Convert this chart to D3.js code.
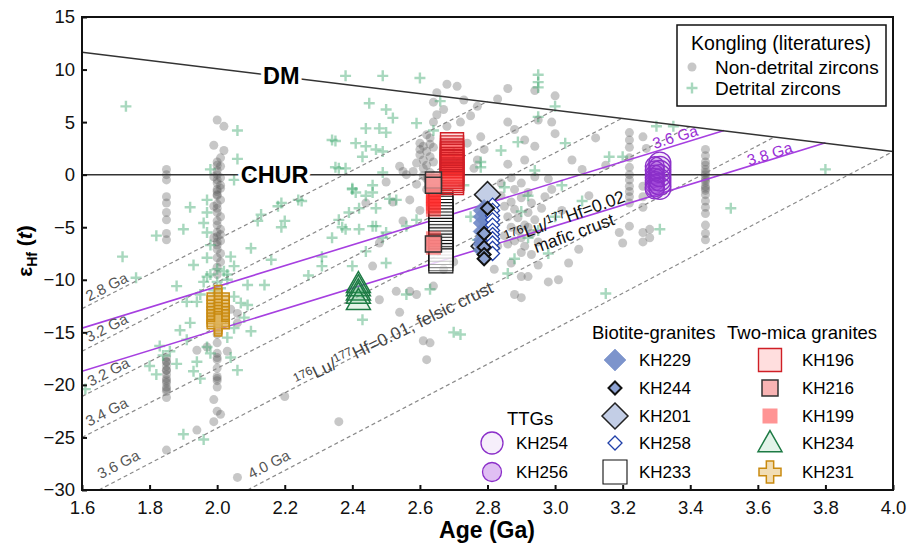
<!DOCTYPE html>
<html lang="en">
<head>
<meta charset="UTF-8">
<style>
  body { margin: 0; background: #fff; }
  text { font-family: "Liberation Sans", Arial, sans-serif; }
</style>
</head>
<body>
<script src="https://d3js.org/d3.v7.min.js"></script>
<script>
// ---- data (age in Ga, eHf(t)) ----
var xTicks = [1.6, 1.8, 2.0, 2.2, 2.4, 2.6, 2.8, 3.0, 3.2, 3.4, 3.6, 3.8, 4.0]
var yTicks = [-30, -25, -20, -15, -10, -5, 0, 5, 10, 15]

// Kongling literature, non-detrital zircons
var nonDetrital = [
  [1.85,0.5],[1.85,0],[1.85,-0.5],[1.85,-2.1],[1.85,-2.7],[1.85,-3.6],[1.85,-4.3],[1.85,-5.6],[1.85,-6.2],
  [1.85,-17.4],[1.85,-17.8],[1.85,-18.2],[1.85,-18.6],[1.85,-19.0],[1.85,-19.4],[1.85,-19.8],[1.85,-20.2],[1.85,-20.6],[1.85,-21.2],
  [1.85,-17.8],[1.85,-18.6],[1.85,-19.6],[1.85,-20.4],[1.85,-26.2],
  [2.0,5.2],[2.02,4.6],[1.99,2.8],[2.02,2.3],[2.01,1.6],[2.0,1.2],[2.01,0.8],[2.0,0.4],[2.0,0],[2.01,-0.3],
  [2.0,-0.8],[2.01,-1.3],[2.0,-1.6],[2.0,-2.0],[2.01,-2.4],[2.0,-2.8],[2.0,-3.2],[2.0,-3.6],[2.01,-4.0],[2.0,-4.4],
  [2.0,-4.8],[2.01,-5.2],[2.0,-5.5],[2.0,-5.9],[2.01,-6.3],[2.0,-6.7],[2.0,-7.1],[2.01,-7.5],[2.0,-7.9],[2.01,-8.3],
  [1.99,-0.2],[2.01,-1.0],[1.99,-3.0],[2.01,-5.7],[1.99,-6.0],[2.0,-6.4],[2.0,-0.5],[2.0,-1.9],[2.0,0.9],[2.0,-1.4],
  [2.0,-8.8],[2.0,-9.5],[2.0,-14.4],[2.0,-15.2],[2.0,-16.0],[1.97,-16.4],[1.94,-16.7],[2.03,-16.8],[2.0,-17.0],
  [2.0,-17.6],[2.0,-18.4],[2.0,-19.2],[2.0,-19.6],[2.0,-20.2],[2.0,-17.4],[2.0,-19.4],[1.99,-21.4],[2.0,-22.5],
  [2.01,-22.8],[1.99,-23.5],[1.94,-24.3],[2.06,-28.8],[2.06,-13.2],[2.06,-14.1],[2.04,-12.8],
  [2.2,-21.1],[2.36,-23.5],
  [2.48,-11.9],[2.53,-11.1],[2.57,-11.1],[2.59,-11.4],[2.64,-10.6],[2.54,-13.1],[2.61,-15.8],[2.63,-16.0],[2.62,-17.6],
  [2.68,8.6],[2.71,8.4],[2.65,7.8],[2.64,6.9],[2.67,6.2],[2.65,5.7],[2.64,5.0],[2.68,4.6],[2.63,3.5],[2.61,2.7],
  [2.60,1.9],[2.59,1.1],[2.63,1.7],[2.62,2.2],[2.60,3.0],[2.62,3.8],[2.64,2.6],[2.61,0.6],[2.63,0.2],[2.62,-0.4],
  [2.64,1.2],[2.58,0.3],[2.54,0.8],[2.55,0.3],[2.56,0],[2.57,-2.4],[2.44,-2.7],[2.52,-2.6],[2.5,-0.7],
  [2.61,1.4],[2.62,0.9],[2.6,2.4],[2.63,2.9],[2.61,-0.1],[2.59,-0.9],[2.62,-1.4],
  [2.78,3.6],[2.79,2.4],[2.77,1.4],[2.75,5.6],[2.77,6.5],[2.73,7.1],[2.72,5.0],[2.74,3.0],[2.76,0.6],[2.66,-1.8],
  [2.6,-3.4],[2.55,-4.4],[2.48,-6.5],[2.46,-8.7],[2.67,-9.0],[2.7,-8.3],
  [2.83,7.2],[2.86,5.0],[2.88,4.3],[2.91,3.3],[2.94,2.7],[2.91,1.4],[2.87,-0.3],[2.9,-0.8],[2.88,-1.4],[2.99,-1.4],
  [2.93,-2.7],[2.92,-3.6],[2.94,-4.3],[2.9,-7.4],[2.87,-8.4],[2.92,-9.7],[3.01,-10.0],[3.04,-8.4],[3.07,-7.1],
  [3.19,-5.5],[3.2,-6.5],[3.0,3.9],[3.05,1.4],[2.99,5.0],[2.95,5.2],[2.84,-2.0],[2.85,-3.0],[2.86,-4.0],[2.87,-5.0],
  [2.85,-5.8],[2.88,-6.3],[2.9,-2.2],[2.91,-4.8],[2.93,-5.6],[2.95,-6.4],[2.96,-3.2],[2.97,-2.1],[2.98,-0.4],
  [2.83,-6.8],[2.82,-9.0],[2.84,-0.8],[2.86,1.0],[2.89,-5.3],[2.92,-1.7],[2.94,-0.2],[3.02,-3.4],[3.1,-2.0],
  [3.08,0.5],[2.9,-9.7],[2.98,-10.2],[2.88,-11.4],[2.9,-11.7],[3.12,3.5],[3.0,7.5],[3.15,0.9],[2.86,8.2],[2.94,8.0],
  [2.88,-3.3],[2.89,-4.1],[2.9,-6.0],[2.91,-6.8],[2.87,-2.6],[2.92,-5.0],[2.86,-6.6],[2.93,-7.6],[2.95,-8.6],
  [3.22,4.0],[3.22,3.3],[3.22,2.6],[3.22,1.6],[3.22,0.7],[3.22,0],[3.22,-0.5],[3.22,-1.1],[3.22,-1.6],[3.22,-2.1],
  [3.22,-2.7],[3.22,-4.9],[3.26,3.6],[3.26,-1.1],[3.26,-2.1],[3.26,-3.1],[3.26,-5.5],[3.26,-6.4],[3.28,-5.2],
  [3.28,-6.0],[3.27,2.5],
  [3.445,2.4],[3.445,1.8],[3.445,1.2],[3.445,0.9],[3.445,0.5],[3.445,0],[3.445,-0.3],[3.445,-0.7],[3.445,-1.1],
  [3.445,-1.5],[3.445,-1.9],[3.445,-2.5],[3.445,-3.1],[3.445,-3.7],[3.445,-4.8],[3.445,-5.6],[3.445,-6.2],
  [3.445,0.2],[3.445,-0.5],[3.445,-1.3]
]

// Kongling literature, detrital zircons
var detrital = [
  [1.73,6.5],[2.06,4.2],[2.06,1.5],[2.05,-0.5],[1.98,0.5],[1.92,-3.1],[1.9,-5.2],[1.82,-5.8],[1.72,-7.8],[1.76,-9.8],
  [1.97,-2.4],[1.97,-3.6],[1.96,-4.6],[1.97,-5.5],[1.98,-6.7],[1.97,-7.9],[2.04,-7.8],[2.05,-8.7],[1.97,-9.7],[2.03,-9.5],
  [2.13,-3.8],[2.16,-8.1],[2.19,-2.7],[2.2,-4.4],[2.25,-2.5],[2.35,3.2],[2.38,9.4],[2.49,9.4],[2.6,9.2],[2.45,6.8],
  [2.5,6.2],[2.52,5.4],[2.44,4.4],[2.48,4.4],[2.5,4.0],[2.59,4.9],[2.41,3.0],[2.44,2.7],[2.49,2.2],[2.43,1.7],
  [2.49,0.2],[2.36,0.6],[2.38,0.6],[2.4,-1.3],[2.46,-1.0],[2.41,-1.7],[2.46,-1.7],[2.53,-2.4],[2.42,-3.2],[2.47,-3.2],
  [2.39,-3.6],[2.36,-4.3],[2.38,-5.2],[2.42,-5.2],[2.34,-6.0],[2.47,-4.9],[2.49,-6.0],[2.5,-5.5],[2.59,-4.3],[2.56,-4.9],
  [2.44,-7.3],[2.5,-8.4],[2.31,-7.8],[2.31,-8.7],[2.4,-8.7],[2.34,3.3],[2.47,2.4],[2.35,0.7],[2.18,-3.0],[2.24,-2.4],
  [2.19,-5.0],[2.12,-4.4],[2.4,-1.4],[2.44,-2.0],[2.51,-2.3],[2.37,-5.0],[2.46,-4.9],[2.68,-3.9],[2.78,0.7],
  [2.95,9.5],[2.95,8.8],[2.95,8.3],[3.0,6.5],[2.95,5.5],[3.03,3.0],[3.16,1.7],[3.2,1.7],[3.3,4.6],[3.35,4.6],
  [3.8,0.5],[3.52,-3.2],[3.31,-5.2],[2.78,1.2],[2.89,3.1],[2.94,0.4],[3.08,-2.5],[2.73,-1.0],[2.86,-9.4],[3.15,-11.3],
  [2.70,-15.0],[1.9,-24.7],[1.96,-25.2],[1.61,-20.4],[2.06,-18.6],[2.43,-13.8],[2.56,-11.4],[2.63,-10.9],[2.72,-15.2],
  [2.14,-10.5],[2.09,-10.5],[2.05,-11.6],[2.05,-14.6],[2.03,-15.5],[1.89,-14.8],[1.92,-14.1],[1.91,-15.7],[1.94,-17.8],
  [1.93,-18.7],[1.83,-16.3],[1.8,-18.2],[1.82,-19.0],[1.88,-10.6],[1.91,-12.1],[1.94,-12.1],[1.96,-10.2],[2.0,-10.2],
  [2.02,-9.2],[2.0,-9.0],[1.98,-9.5],[2.01,-10.8],[2.03,-10.0],[1.99,-11.0],[1.95,-11.4],[2.07,-12.2],[2.08,-13.6],
  [1.97,-16.4],[1.98,-17.0],[2.04,-17.4],[1.95,-19.4],[1.86,-16.8],[1.84,-17.2],[1.88,-18.0],[2.09,-12.4],[2.1,-14.9],
  [1.99,-12.6],[2.0,-13.9],[2.75,-4.0],[2.77,-6.2],[2.85,-1.2],[2.9,-3.5],[2.92,-6.0],[2.88,-8.0],[2.92,-2.0],
  [2.84,2.3],[2.82,-7.0],[2.95,-5.3],[2.98,-7.5],[3.0,-4.0],[3.02,-1.0],[2.64,4.2],[2.7,2.0],[2.66,7.0],
  [2.43,-11.2],[2.27,-9.6],[2.1,-7.0],[1.93,-8.6]
]

// this study
var kh196 = [[2.695,2.9],[2.695,2.6],[2.695,2.3],[2.695,2.1],[2.695,2.0],[2.695,1.8],[2.695,1.5],[2.695,1.3],[2.695,1.2],
  [2.695,1.0],[2.695,0.8],[2.695,0.5],[2.695,0.3],[2.695,0.1],[2.695,0.0],[2.695,-0.2],[2.695,-0.4],[2.695,-0.6],[2.695,-0.8]]
var kh233 = [[2.662,-2.6],[2.662,-2.9],[2.662,-3.2],[2.662,-3.5],[2.662,-3.8],[2.662,-4.1],[2.662,-4.4],[2.662,-4.7],
  [2.662,-5.0],[2.662,-5.3],[2.662,-5.6],[2.662,-5.9],[2.662,-6.2],[2.662,-6.5],[2.662,-6.8],[2.662,-7.1],[2.662,-7.4],
  [2.662,-7.7],[2.662,-8.0],[2.662,-8.2]]
var kh199 = [[2.64,-0.7],[2.64,-1.1],[2.64,-1.6],[2.64,-2.0],[2.64,-2.3],[2.64,-2.7],[2.64,-3.0],[2.64,-3.3],
  [2.64,-6.1],[2.64,-6.5],[2.64,-6.9]]
var kh216 = [[2.64,-0.5],[2.64,-1.0],[2.64,-6.6]]
var kh229 = [[2.79,-3.4],[2.79,-4.0],[2.79,-4.6],[2.79,-5.4],[2.79,-6.2],[2.79,-6.6],[2.79,-7.2]]
var kh201 = [[2.80,-1.9],[2.79,-6.8]]
var kh244 = [[2.80,-3.2],[2.79,-5.6],[2.79,-6.9],[2.79,-7.6],[2.79,-8.0]]
var kh258 = [[2.815,-2.9],[2.815,-3.4],[2.815,-3.9],[2.815,-4.3],[2.815,-4.8],[2.815,-5.3],[2.815,-5.7],[2.815,-6.1],
  [2.815,-6.5],[2.815,-7.0],[2.815,-7.5]]
var kh234 = [[2.418,-10.4],[2.418,-10.7],[2.418,-11.1],[2.418,-11.4],[2.418,-12.0]]
var kh231 = [[2.003,-11.6],[2.003,-11.9],[2.003,-12.3],[2.003,-12.6],[2.003,-12.9],[2.003,-13.2],[2.003,-13.5],
  [2.003,-13.8],[2.003,-14.1],[2.003,-14.3]]
var kh254 = [[3.31,1.1],[3.31,0.7],[3.31,0.3],[3.31,-0.1],[3.31,-0.5],[3.31,-0.9],[3.31,-1.3]]
var kh256 = [[3.295,0.8],[3.295,0.4],[3.295,0.0],[3.295,-0.3],[3.295,-0.6],[3.295,-0.9],[3.295,-1.2],[3.295,-1.4]]

// reference lines (end points)
var dmLine = [[1.6, 11.65], [4.0, 2.2]]
var churLine = [[1.6, 0], [4.0, 0]]
var felsicLines = [
  [[1.6, -12.75], [2.8, 6.97]],
  [[1.6, -16.8], [3.0, 6.18]],
  [[1.6, -21.1], [3.2, 5.39]],
  [[1.6, -25.0], [3.4, 4.6]],
  [[1.65, -30], [3.65, 3.6]],
  [[2.09, -30], [4.0, 2.2]]
]
var felsicLabels = ['2.8 Ga', '3.2 Ga', '3.2 Ga', '3.4 Ga', '3.6 Ga', '4.0 Ga']
var felsicLabelPos = [[1.68, -11.1], [1.68, -15.0], [1.685, -19.2], [1.68, -23.0], [1.715, -28.0], [2.16, -28.0]]
var maficLines = [
  [[1.6, -14.6], [3.5, 4.2]],
  [[1.6, -18.7], [3.8, 3.03]]
]
var maficLabels = ['3.6 Ga', '3.8 Ga']
var maficLabelPos = [[3.36, 3.1], [3.64, 1.5]]

// ---- layout ----
var svgWidth = 908, svgHeight = 547
var svg = d3.select('body').append('svg')
  .attr('width', svgWidth)
  .attr('height', svgHeight)

var x = d3.scaleLinear().domain([1.6, 4.0]).range([82, 893])
var y = d3.scaleLinear().domain([-30, 15]).range([490, 17])

svg.append('clipPath').attr('id', 'plot')
  .append('rect').attr('x', 82).attr('y', 17).attr('width', 811).attr('height', 473)

var plot = svg.append('g').attr('clip-path', 'url(#plot)')
var line = d3.line().x(d => x(d[0])).y(d => y(d[1]))

// marker shapes, s = full width in px
function shapePath(type, s) {
  var h = s / 2
  if (type == 'square') return 'M' + -h + ',' + -h + 'H' + h + 'V' + h + 'H' + -h + 'Z'
  if (type == 'diamond') return 'M0,' + -h + 'L' + h + ',0L0,' + h + 'L' + -h + ',0Z'
  if (type == 'triangle') return 'M0,' + (-0.52 * s) + 'L' + h + ',' + (0.36 * s) + 'L' + -h + ',' + (0.36 * s) + 'Z'
  if (type == 'plus') {
    var b = s / 6
    return 'M' + -b + ',' + -h + 'H' + b + 'V' + -b + 'H' + h + 'V' + b + 'H' + b + 'V' + h +
      'H' + -b + 'V' + b + 'H' + -h + 'V' + -b + 'H' + -b + 'Z'
  }
  if (type == 'cross') {
    return 'M' + -h + ',0H' + h + 'M0,' + -h + 'V' + h
  }
  // circle
  return 'M' + h + ',0A' + h + ',' + h + ' 0 1,1 ' + -h + ',0A' + h + ',' + h + ' 0 1,1 ' + h + ',0Z'
}

var styles = {
  nonDetrital: { type: 'circle', size: 9, fill: '#555', fillOpacity: 0.33, stroke: 'none', sw: 0 },
  detrital: { type: 'cross', size: 11, fill: 'none', fillOpacity: 1, stroke: '#3da86f', sw: 2.4, opacity: 0.45 },
  KH196: { type: 'square', size: 23, fill: '#ff3030', fillOpacity: 0.16, stroke: '#cf1f26', sw: 1.4 },
  KH216: { type: 'square', size: 16, fill: '#f59a9a', fillOpacity: 0.75, stroke: '#333', sw: 1.5 },
  KH199: { type: 'square', size: 15, fill: '#ff2a2a', fillOpacity: 0.5, stroke: 'none', sw: 0 },
  KH233: { type: 'square', size: 24, fill: '#fff', fillOpacity: 0.3, stroke: '#111', sw: 1.1 },
  KH229: { type: 'diamond', size: 22, fill: '#6f88c6', fillOpacity: 0.9, stroke: '#6f88c6', sw: 0.5 },
  KH244: { type: 'diamond', size: 13, fill: '#8ea3d3', fillOpacity: 1, stroke: '#111', sw: 2 },
  KH201: { type: 'diamond', size: 26, fill: '#c3cee6', fillOpacity: 1, stroke: '#222', sw: 1.5 },
  KH258: { type: 'diamond', size: 14, fill: '#fff', fillOpacity: 1, stroke: '#1f3fa8', sw: 1.3 },
  KH234: { type: 'triangle', size: 24, fill: '#3aa866', fillOpacity: 0.14, stroke: '#1d7a44', sw: 1.5 },
  KH231: { type: 'plus', size: 22, fill: '#e0b45c', fillOpacity: 0.45, stroke: '#c98a10', sw: 1.5 },
  KH254: { type: 'circle', size: 22, fill: '#8b2fc9', fillOpacity: 0.08, stroke: '#8b2fc9', sw: 1.3 },
  KH256: { type: 'circle', size: 19, fill: '#a548dc', fillOpacity: 0.35, stroke: '#8b2fc9', sw: 1.3 }
}

function drawMarks(g, data, st) {
  g.selectAll(null).data(data).enter().append('path')
    .attr('d', shapePath(st.type, st.size))
    .attr('transform', d => 'translate(' + x(d[0]) + ',' + y(d[1]) + ')')
    .attr('fill', st.fill)
    .attr('fill-opacity', st.fillOpacity)
    .attr('stroke', st.stroke)
    .attr('stroke-width', st.sw)
    .attr('opacity', st.opacity || 1)
}

// literature data
drawMarks(plot, nonDetrital, styles.nonDetrital)
drawMarks(plot, detrital, styles.detrital)

// reference lines
felsicLines.forEach(function (l) {
  plot.append('path').attr('d', line(l)).attr('fill', 'none')
    .attr('stroke', '#8a8a8a').attr('stroke-width', 1.2).attr('stroke-dasharray', '4,3')
})
maficLines.forEach(function (l) {
  plot.append('path').attr('d', line(l)).attr('fill', 'none')
    .attr('stroke', '#a63fe0').attr('stroke-width', 1.6)
})
plot.append('path').attr('d', line(dmLine)).attr('fill', 'none').attr('stroke', '#333').attr('stroke-width', 1.5)
plot.append('path').attr('d', line(churLine)).attr('fill', 'none').attr('stroke', '#333').attr('stroke-width', 1.5)

// line labels
felsicLabels.forEach(function (t, i) {
  var p = felsicLabelPos[i]
  svg.append('text').text(t)
    .attr('transform', 'translate(' + x(p[0]) + ',' + y(p[1]) + ') rotate(-27)')
    .attr('text-anchor', 'middle').attr('font-size', 15).attr('fill', '#555')
})
maficLabels.forEach(function (t, i) {
  var p = maficLabelPos[i]
  svg.append('text').text(t)
    .attr('transform', 'translate(' + x(p[0]) + ',' + y(p[1]) + ') rotate(-17)')
    .attr('text-anchor', 'middle').attr('font-size', 15.5).attr('fill', '#9a2fd6')
})

function bigLabel(t, p) {
  svg.append('text').text(t)
    .attr('x', x(p[0])).attr('y', y(p[1])).attr('dy', '0.36em')
    .attr('text-anchor', 'middle').attr('font-size', 23.5).attr('font-weight', 'bold')
    .attr('fill', '#000').attr('stroke', '#fff').attr('stroke-width', 7)
    .attr('paint-order', 'stroke')
}
bigLabel('DM', [2.19, 9.4])
bigLabel('CHUR', [2.17, 0])

function lutext(g, ratio, rest, fill) {
  var t = g.append('text').attr('text-anchor', 'middle').attr('font-size', 17.5).attr('fill', fill)
  t.append('tspan').text('176').attr('font-size', 12).attr('dy', -6)
  t.append('tspan').text('Lu/').attr('dy', 6)
  t.append('tspan').text('177').attr('font-size', 12).attr('dy', -6)
  t.append('tspan').text('Hf=' + ratio + rest).attr('dy', 6)
  return t
}
var felsicLab = svg.append('g')
  .attr('transform', 'translate(' + x(2.53) + ',' + y(-15.7) + ') rotate(-26)')
lutext(felsicLab, '0.01', ', felsic crust', '#444')

var maficLab = svg.append('g')
  .attr('transform', 'translate(' + x(3.035) + ',' + y(-4.6) + ') rotate(-20)')
lutext(maficLab, '0.02', '', '#111')
maficLab.append('text').text('mafic crust').attr('x', 3).attr('y', 18)
  .attr('text-anchor', 'middle').attr('font-size', 17.5).attr('fill', '#111')

// samples of this study
var samples = plot.append('g')
drawMarks(samples, kh233, styles.KH233)
drawMarks(samples, kh196, styles.KH196)
drawMarks(samples, kh199, styles.KH199)
drawMarks(samples, kh216, styles.KH216)
drawMarks(samples, kh201, styles.KH201)
drawMarks(samples, kh229, styles.KH229)
drawMarks(samples, kh258, styles.KH258)
drawMarks(samples, kh244, styles.KH244)
drawMarks(samples, kh234, styles.KH234)
drawMarks(samples, kh231, styles.KH231)
drawMarks(samples, kh256, styles.KH256)
drawMarks(samples, kh254, styles.KH254)

// axes
var xAxis = svg.append('g').attr('transform', 'translate(0,490)')
  .call(d3.axisBottom(x).tickValues(xTicks).tickSize(-5).tickPadding(11).tickFormat(d3.format('.1f')))
var yAxis = svg.append('g').attr('transform', 'translate(82,0)')
  .call(d3.axisLeft(y).tickValues(yTicks).tickSize(-5).tickPadding(7))
;[xAxis, yAxis].forEach(function (a) {
  a.select('.domain').remove()
  a.selectAll('line').attr('stroke', '#111').attr('stroke-width', 2)
  a.selectAll('text').attr('font-size', 18.5).attr('fill', '#111')
    .attr('font-family', '"Liberation Sans", Arial, sans-serif')
})

svg.append('rect').attr('x', 82).attr('y', 17).attr('width', 811).attr('height', 473)
  .attr('fill', 'none').attr('stroke', '#111').attr('stroke-width', 2)

// axis titles
svg.append('text').text('Age (Ga)')
  .attr('x', 487).attr('y', 538).attr('text-anchor', 'middle')
  .attr('font-size', 23).attr('font-weight', 'bold')

var yt = svg.append('text')
  .attr('transform', 'translate(32,251) rotate(-90)')
  .attr('text-anchor', 'middle').attr('font-weight', 'bold').attr('font-size', 21)
yt.append('tspan').text('\u03b5')
yt.append('tspan').text('Hf').attr('font-size', 14).attr('dy', 5)
yt.append('tspan').text(' (').attr('dy', -5)
yt.append('tspan').text('t').attr('font-style', 'italic')
yt.append('tspan').text(')')

// legend 1: literature
var leg1 = svg.append('g')
leg1.append('rect').attr('x', 677).attr('y', 25).attr('width', 209).attr('height', 81)
  .attr('fill', '#fff').attr('stroke', '#111').attr('stroke-width', 1.5)
leg1.append('text').text('Kongling (literatures)').attr('x', 781).attr('y', 50)
  .attr('text-anchor', 'middle').attr('font-size', 19.5)
leg1.append('path').attr('d', shapePath('circle', 9)).attr('transform', 'translate(692,67)')
  .attr('fill', '#555').attr('fill-opacity', 0.33)
leg1.append('path').attr('d', shapePath('cross', 11)).attr('transform', 'translate(692,88)')
  .attr('fill', 'none').attr('stroke', '#3da86f').attr('stroke-width', 2.4).attr('opacity', 0.45)
leg1.append('text').text('Non-detrital zircons').attr('x', 715).attr('y', 74).attr('font-size', 19)
leg1.append('text').text('Detrital zircons').attr('x', 715).attr('y', 95).attr('font-size', 19)

// legend 2: samples
var leg2 = svg.append('g')
var rowsY = [360, 388, 416, 443, 472]
var biotite = ['KH229', 'KH244', 'KH201', 'KH258', 'KH233']
var twoMica = ['KH196', 'KH216', 'KH199', 'KH234', 'KH231']
var ttgs = ['KH254', 'KH256']

function legendItem(name, mx, tx, yy) {
  var st = styles[name]
  leg2.append('path').attr('d', shapePath(st.type, st.size))
    .attr('transform', 'translate(' + mx + ',' + yy + ')')
    .attr('fill', st.fill).attr('fill-opacity', st.fillOpacity)
    .attr('stroke', st.stroke).attr('stroke-width', st.sw)
  leg2.append('text').text(name).attr('x', tx).attr('y', yy).attr('dy', '0.36em').attr('font-size', 17)
}
leg2.append('text').text('Biotite-granites').attr('x', 592).attr('y', 339).attr('font-size', 18.5)
leg2.append('text').text('Two-mica granites').attr('x', 727).attr('y', 339).attr('font-size', 18.5)
leg2.append('text').text('TTGs').attr('x', 507).attr('y', 425).attr('font-size', 18.5)
biotite.forEach((n, i) => legendItem(n, 615, 639, rowsY[i]))
twoMica.forEach((n, i) => legendItem(n, 770, 802, rowsY[i]))
ttgs.forEach((n, i) => legendItem(n, 492, 516, rowsY[i + 3]))
</script>
</body>
</html>
